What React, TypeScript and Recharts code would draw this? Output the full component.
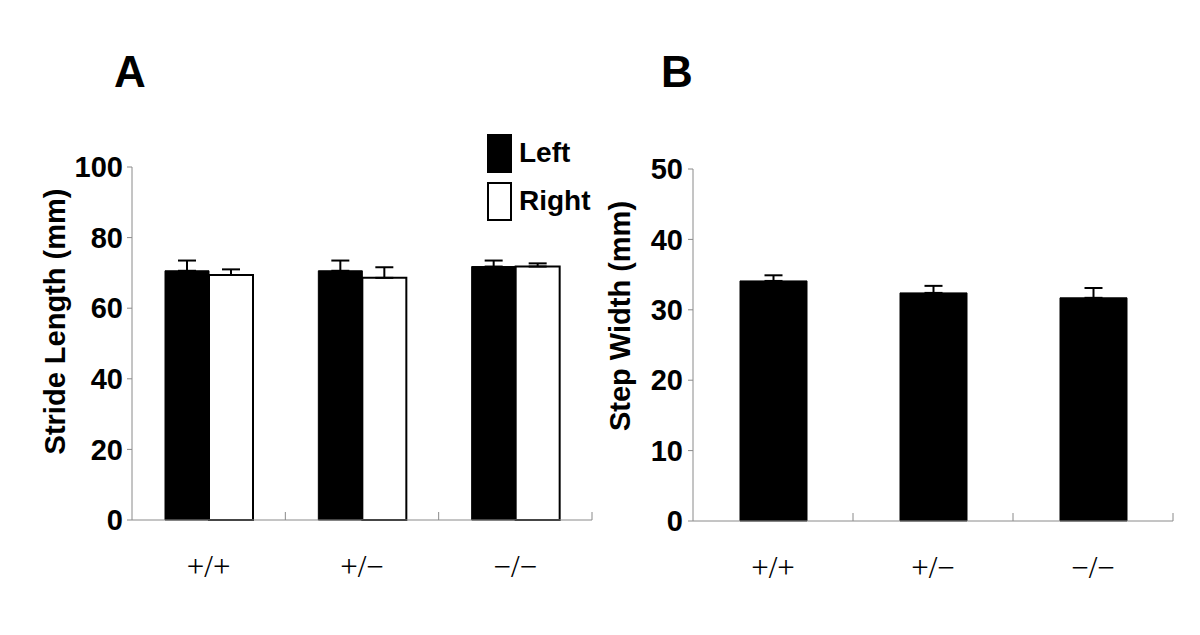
import React from "react";
import { Bar, BarChart, ErrorBar, XAxis, YAxis } from "recharts";

const genotypes = ["+/+", "+/\u2212", "\u2212/\u2212"];

const strideLeft = [70.6, 70.6, 71.8];
const strideLeftErr = [2.9, 2.9, 1.7];
const strideRight = [69.4, 68.6, 71.8];
const strideRightErr = [1.6, 3.0, 0.9];

const stepWidth = [34.1, 32.4, 31.7];
const stepWidthErr = [0.8, 1.0, 1.4];

const strideTicks = [0, 20, 40, 60, 80, 100];
const stepTicks = [0, 10, 20, 30, 40, 50];

const legendItems = [
  { name: "Left", fill: "#000" },
  { name: "Right", fill: "#fff" },
];

const strideData = genotypes.map((g, i) => ({
  genotype: g,
  left: strideLeft[i],
  leftErr: [0, strideLeftErr[i]],
  right: strideRight[i],
  rightErr: [0, strideRightErr[i]],
}));

const stepData = genotypes.map((g, i) => ({
  genotype: g,
  width: stepWidth[i],
  widthErr: [0, stepWidthErr[i]],
}));

const SANS = "'Liberation Sans', Arial, sans-serif";
const SERIF = "'Liberation Serif', 'Times New Roman', serif";
const AXIS_GRAY = "#8a8a8a";

// category tick: genotype label below, small upward tick at the right band edge
function makeCategoryTick(band: number) {
  return (props: any) => {
    const { x, y, payload } = props;
    return (
      <g>
        <line x1={x + band / 2} x2={x + band / 2} y1={y} y2={y - 8} stroke={AXIS_GRAY} strokeWidth={1} />
        <text x={x} y={y + 57} textAnchor="middle" fontFamily={SERIF} fontSize={31} fill="#000">
          {payload.value}
        </text>
      </g>
    );
  };
}

function yTitle(text: string, cx: number, shift: number) {
  return (props: any) => {
    const vb = props.viewBox || {};
    const cy = (vb.y ?? 0) + (vb.height ?? 0) / 2 + shift;
    return (
      <text
        x={cx}
        y={cy}
        transform={`rotate(-90, ${cx}, ${cy})`}
        textAnchor="middle"
        dominantBaseline="central"
        fontFamily={SANS}
        fontWeight="bold"
        fontSize={29}
        fill="#000"
      >
        {text}
      </text>
    );
  };
}

function LegendBox() {
  return (
    <div style={{ position: "absolute", left: 487, top: 129, fontFamily: SANS, fontWeight: "bold", fontSize: 28 }}>
      {legendItems.map((it) => (
        <div key={it.name} style={{ display: "flex", alignItems: "center", height: 48 }}>
          <div
            style={{
              width: 21,
              height: 35,
              background: it.fill,
              border: "2px solid #000",
              marginRight: 7,
            }}
          />
          <span>{it.name}</span>
        </div>
      ))}
    </div>
  );
}

const tickStyle = { fill: "#000", fontFamily: SANS, fontWeight: "bold", fontSize: 29 } as const;

export default function App() {
  const bandA = (592 - 132) / 3;
  const bandB = (1173 - 693) / 3;
  return (
    <div style={{ position: "absolute", left: 0, top: 0, width: 1200, height: 635, background: "#fff" }}>
      <svg style={{ position: "absolute", left: 0, top: 0 }} width={1200} height={120}>
        <text x={114} y={87} fontFamily={SANS} fontWeight="bold" fontSize={44} fill="#000">A</text>
        <text x={661} y={87} fontFamily={SANS} fontWeight="bold" fontSize={44} fill="#000">B</text>
      </svg>

      <div style={{ position: "absolute", left: 0, top: 0 }}>
        <BarChart
          width={600}
          height={635}
          data={strideData}
          margin={{ top: 167, right: 8, bottom: 55, left: 0 }}
          barGap={0}
          barSize={44}
        >
          <XAxis
            dataKey="genotype"
            height={60}
            stroke={AXIS_GRAY}
            tickLine={false}
            tickSize={0}
            tickMargin={0}
            interval={0}
            tick={makeCategoryTick(bandA)}
          />
          <YAxis
            width={132}
            domain={[0, 100]}
            ticks={strideTicks}
            stroke={AXIS_GRAY}
            tickSize={5}
            tickMargin={4}
            tick={tickStyle}
            label={{ content: yTitle("Stride Length (mm)", 55, -22) }}
          />
          <Bar dataKey="left" name="Left" fill="#000" stroke="#000" strokeWidth={1} isAnimationActive={false}>
            <ErrorBar dataKey="leftErr" direction="y" width={9} stroke="#000" strokeWidth={2} />
          </Bar>
          <Bar dataKey="right" name="Right" fill="#fff" stroke="#000" strokeWidth={2} isAnimationActive={false}>
            <ErrorBar dataKey="rightErr" direction="y" width={9} stroke="#000" strokeWidth={2} />
          </Bar>
        </BarChart>
      </div>
      <LegendBox />

      <div style={{ position: "absolute", left: 600, top: 0 }}>
        <BarChart
          width={600}
          height={635}
          data={stepData}
          margin={{ top: 169, right: 27, bottom: 54, left: 0 }}
          barSize={67}
        >
          <XAxis
            dataKey="genotype"
            height={60}
            stroke={AXIS_GRAY}
            tickLine={false}
            tickSize={0}
            tickMargin={0}
            interval={0}
            tick={makeCategoryTick(bandB)}
          />
          <YAxis
            width={93}
            domain={[0, 50]}
            ticks={stepTicks}
            stroke={AXIS_GRAY}
            tickSize={5}
            tickMargin={5}
            tick={tickStyle}
            label={{ content: yTitle("Step Width (mm)", 20, -29) }}
          />
          <Bar dataKey="width" fill="#000" stroke="#000" strokeWidth={1} isAnimationActive={false}>
            <ErrorBar dataKey="widthErr" direction="y" width={9} stroke="#000" strokeWidth={2} />
          </Bar>
        </BarChart>
      </div>
    </div>
  );
}
